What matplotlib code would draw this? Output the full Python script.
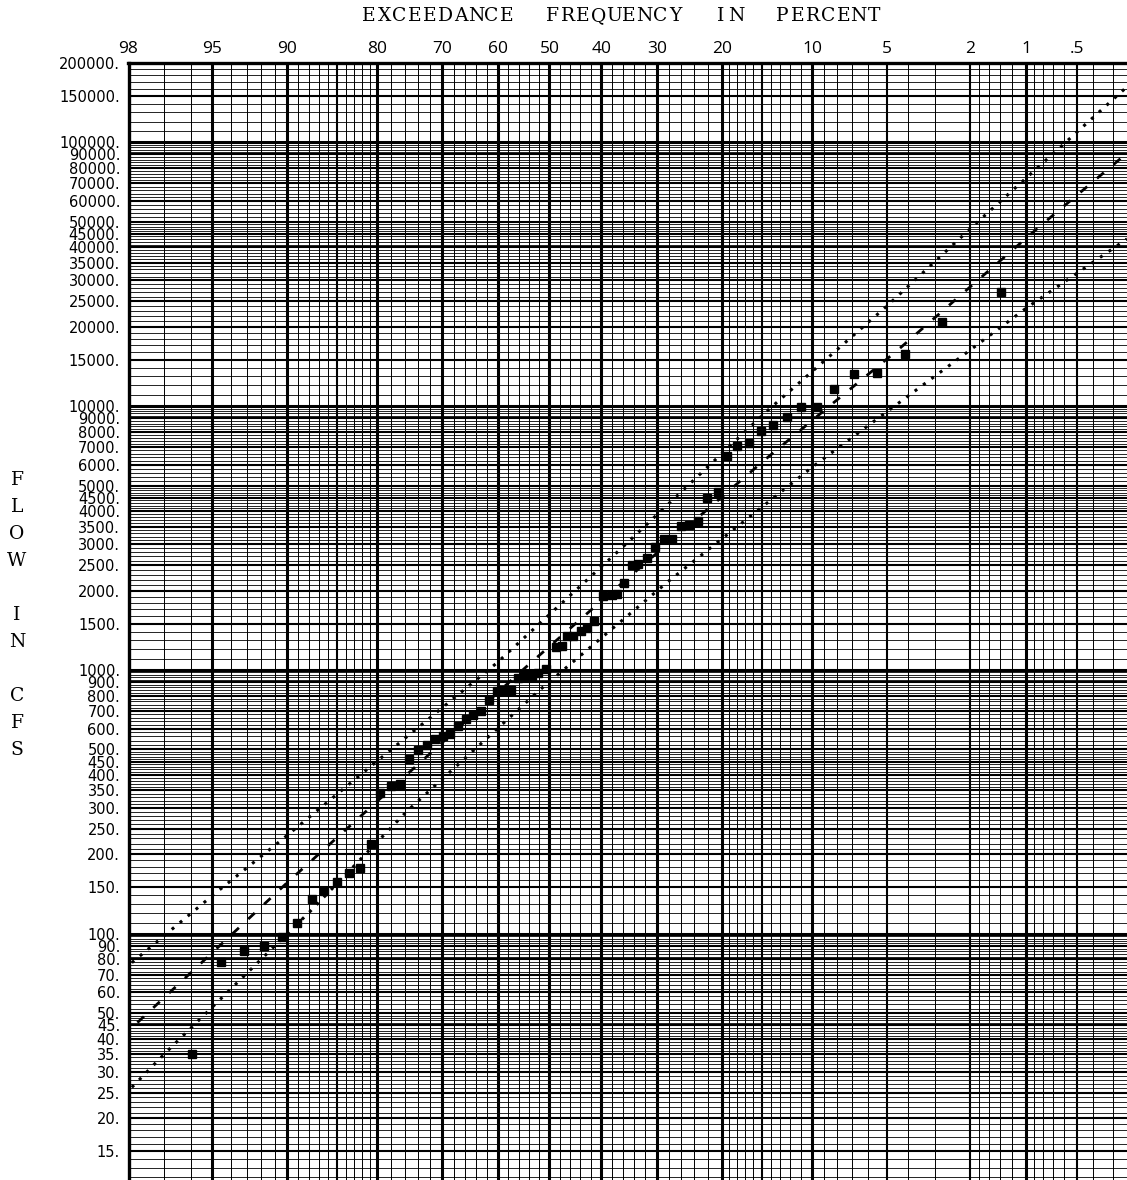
import matplotlib
matplotlib.use('Agg')
import matplotlib.pyplot as plt
from statistics import NormalDist

nd = NormalDist()


def zpos(p):
    # exceedance percent -> standard normal deviate (probability paper x)
    return nd.inv_cdf(1.0 - p / 100.0)


# annual peaks: exceedance frequency (percent) and flow (cfs)
peak_pct = [95.93, 94.56, 93.17, 91.79, 90.43, 89.10, 87.67, 86.40, 84.97, 83.60,
            82.24, 80.77, 79.58, 78.03, 76.71, 75.39, 73.99, 72.54, 71.18, 69.88,
            68.63, 67.18, 65.81, 64.49, 63.14, 61.55, 60.16, 58.92, 57.51, 56.05,
            54.89, 53.46, 52.18, 50.74, 48.74, 47.63, 46.66, 45.38, 43.95, 42.80,
            41.35, 39.65, 38.08, 37.04, 35.76, 34.42, 33.24, 31.66, 30.34, 28.82,
            27.56, 26.11, 24.76, 23.40, 22.07, 20.60, 19.37, 17.98, 16.52, 15.15,
            13.78, 12.36, 11.02, 9.60, 8.24, 6.87, 5.51, 4.15, 2.77, 1.38]
peak_cfs = [35, 78, 86, 90, 97, 110, 135, 146, 157, 170,
            178, 219, 343, 364, 371, 460, 499, 521, 547, 560,
            573, 615, 652, 677, 697, 772, 830, 837, 842, 937,
            946, 951, 974, 1009, 1222, 1229, 1341, 1349, 1401, 1443,
            1538, 1901, 1930, 1947, 2137, 2507, 2530, 2659, 2927, 3140,
            3140, 3504, 3557, 3661, 4475, 4745, 6457, 7089, 7258, 8082,
            8465, 9077, 9904, 9904, 11660, 13260, 13410, 15830, 20810, 27210]

# fitted frequency curve
fit_pct = [97.78, 90.01, 80.50, 54.43, 41.54, 14.66, 8.31, 4.44, 1.86, 0.836, 0.263, 0.242]
fit_cfs = [46.1, 155.7, 308.5, 1032, 1718, 6272, 10290, 16390, 29760, 48110, 87440, 90800]

# confidence limits
upper_pct = [97.92, 94.95, 90.15, 80.04, 60.16, 36.23, 14.47, 5.00, 1.90, 0.61, 0.242]
upper_cfs = [77.8, 140.6, 232.6, 450.2, 1063, 2901, 9565, 23930, 48830, 98200, 162500]
lower_pct = [97.92, 96.96, 87.87, 75.70, 51.85, 28.11, 9.91, 1.94, 0.996, 0.242]
lower_cfs = [26.2, 35.3, 121.5, 290.9, 842, 2168, 5917, 16640, 23600, 43090]

# probability paper rulings
heavy_pct = [95, 90, 80, 70, 60, 50, 40, 30, 20, 10, 1]
medium_pct = [85, 15, 5, 2, 0.5]
light_pct = [97, 96, 94, 93, 92, 91, 89, 88, 87, 86, 84, 83, 82, 81,
             78, 76, 74, 72, 68, 66, 64, 62, 58, 56, 54, 52, 48, 46, 44, 42,
             38, 36, 34, 32, 28, 26, 24, 22, 19, 18, 17, 16, 14, 13, 12, 11,
             9, 8, 7, 6, 4, 3, 1.8, 1.6, 1.4, 1.2, 0.9, 0.8, 0.7, 0.6, 0.4, 0.3]
top_labels = [98, 95, 90, 80, 70, 60, 50, 40, 30, 20, 10, 5, 2, 1, 0.5]
top_text = ['98', '95', '90', '80', '70', '60', '50', '40', '30', '20', '10', '5', '2', '1', '.5']

decades = [10, 100, 1000, 10000]
label_mult = [1.5, 2, 2.5, 3, 3.5, 4, 4.5, 5, 6, 7, 8, 9]

W, H = 1127, 1180
fig = plt.figure(figsize=(W / 100, H / 100), dpi=100)
ax = fig.add_axes([128.5 / W, 0, 1 - 128.5 / W, 1 - 63 / H])
ax.set_yscale('log')
ax.set_xlim(zpos(98), zpos(0.242))
ax.set_ylim(11.67, 200000)

# horizontal rulings
flow_labels = []
for d in decades:
    for k in range(11, 50):
        if k % 5 != 0:
            ax.axhline(k * d / 10, color='k', lw=0.6, zorder=1)
    for k in range(52, 100, 2):
        if k % 10 != 0:
            ax.axhline(k * d / 10, color='k', lw=0.6, zorder=1)
    for m in label_mult:
        ax.axhline(m * d, color='k', lw=1.5, zorder=2)
        flow_labels.append(int(m * d))
    ax.axhline(10 * d, color='k', lw=2.2, zorder=2)
    flow_labels.append(10 * d)
for k in [11, 12, 13, 14, 16, 17, 18, 19]:
    ax.axhline(k * 10000, color='k', lw=0.6, zorder=1)
ax.axhline(150000, color='k', lw=1.5, zorder=2)
flow_labels += [150000, 200000]

# vertical rulings
for p in light_pct:
    ax.axvline(zpos(p), color='k', lw=0.7, zorder=1)
for p in medium_pct:
    ax.axvline(zpos(p), color='k', lw=1.5, zorder=2)
for p in heavy_pct:
    ax.axvline(zpos(p), color='k', lw=2.2, zorder=2)

for s in ['right', 'bottom']:
    ax.spines[s].set_visible(False)
for s in ['left', 'top']:
    ax.spines[s].set_linewidth(2.4)

ax.set_yticks(flow_labels, [str(v) + '.' for v in flow_labels])
ax.yaxis.set_minor_locator(matplotlib.ticker.NullLocator())
ax.tick_params(axis='y', length=0, pad=6, labelsize=10.5)
for t in ax.get_yticklabels():
    t.set_fontfamily('DejaVu Sans')

ax.xaxis.tick_top()
ax.set_xticks([zpos(p) for p in top_labels], top_text)
ax.tick_params(axis='x', length=0, pad=4, labelsize=12.5)
for t in ax.get_xticklabels():
    t.set_fontfamily('Open Sans')

# curves and peaks
ax.plot([zpos(p) for p in fit_pct], fit_cfs, color='k', lw=2.0, dashes=(3.2, 4.6), zorder=4)
ax.plot([zpos(p) for p in upper_pct], upper_cfs, color='k', lw=2.2, dashes=(1, 2.4), zorder=4)
ax.plot([zpos(p) for p in lower_pct], lower_cfs, color='k', lw=2.2, dashes=(1, 2.4), zorder=4)
ax.plot([zpos(p) for p in peak_pct], peak_cfs, 's', color='k', ms=6.3, zorder=5)


def mono_text(s, x0, y, pitch, size):
    for i, ch in enumerate(s):
        if ch != ' ':
            fig.text((x0 + i * pitch) / W, 1 - y / H, ch, ha='center', va='center',
                     family='DejaVu Serif', fontsize=size)


mono_text('EXCEEDANCE  FREQUENCY  IN  PERCENT', 369, 16, 15.3, 13.5)

side = 'FLOW IN CFS'
for i, ch in enumerate(side):
    if ch != ' ':
        fig.text(17 / W, 1 - (480 + i * 27) / H, ch, ha='center', va='center',
                 family='DejaVu Serif', fontsize=13.5)

fig.savefig('out.png', dpi=100)
